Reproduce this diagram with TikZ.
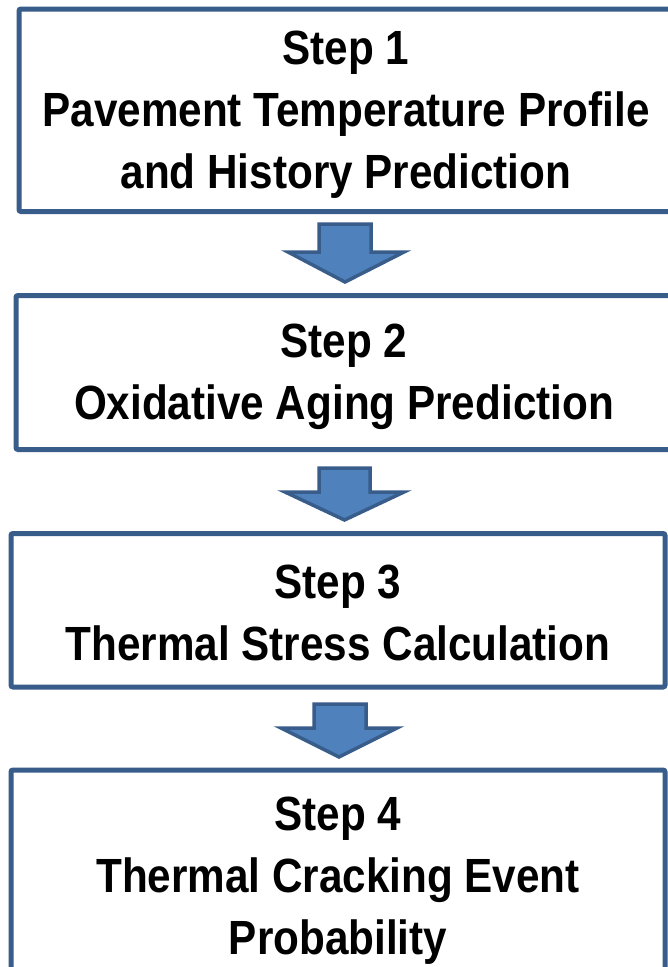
\documentclass[tikz,border=0pt]{standalone}
\usepackage{fontspec}
\setmainfont{Liberation Sans}[FakeStretch=0.88]
\definecolor{boxblue}{HTML}{385D8A}
\definecolor{arrfill}{HTML}{4F81BD}
\begin{document}
\begin{tikzpicture}[x=1pt,y=-1pt,
  stepbox/.style={draw=boxblue, line width=5pt, rounded corners=2pt, fill=white, inner sep=0pt},
  steptext/.style={align=center, inner sep=0pt, font=\fontsize{48}{62}\selectfont\bfseries},
  blockarrow/.style={draw=boxblue, fill=arrfill, line width=3.5pt, line join=miter}]
\useasboundingbox (0,0) rectangle (668,967);
\clip (0,0) rectangle (668,967);
\fill[white] (0,0) rectangle (668,967);
\node[stepbox, minimum width=654pt, minimum height=202.5pt] (s1) at (346,110.25) {};
\node[steptext] (t1) at ([yshift=-4pt]s1.center)
  {Step 1\\Pavement Temperature Profile\\and History Prediction};
\node[stepbox, minimum width=656pt, minimum height=154pt] (s2) at (344,372.5) {};
\node[steptext] (t2) at ([yshift=-4pt]s2.center)
  {Step 2\\Oxidative Aging Prediction};
\node[stepbox, minimum width=654pt, minimum height=153.5pt] (s3) at (338,610.25) {};
\node[steptext] (t3) at ([yshift=-3pt]s3.center)
  {Step 3\\Thermal Stress Calculation};
\node[stepbox, minimum width=654pt, minimum height=220pt] (s4) at (338,880) {};
\node[steptext] (t4) at ([yshift=-1pt]s4.center)
  {Step 4\\Thermal Cracking Event\\Probability};
% block arrows
\draw[blockarrow] (319,224) -- (371,224) -- (371,252) -- (404,252) -- (345,282)
  -- (288,252) -- (319,252) -- cycle;
\draw[blockarrow] (319,468) -- (370,468) -- (370,492) -- (404,492) -- (344.5,520)
  -- (285,492) -- (319,492) -- cycle;
\draw[blockarrow] (314,704) -- (366,704) -- (366,728) -- (397,728) -- (339,757)
  -- (281,728) -- (314,728) -- cycle;
\end{tikzpicture}
\end{document}
